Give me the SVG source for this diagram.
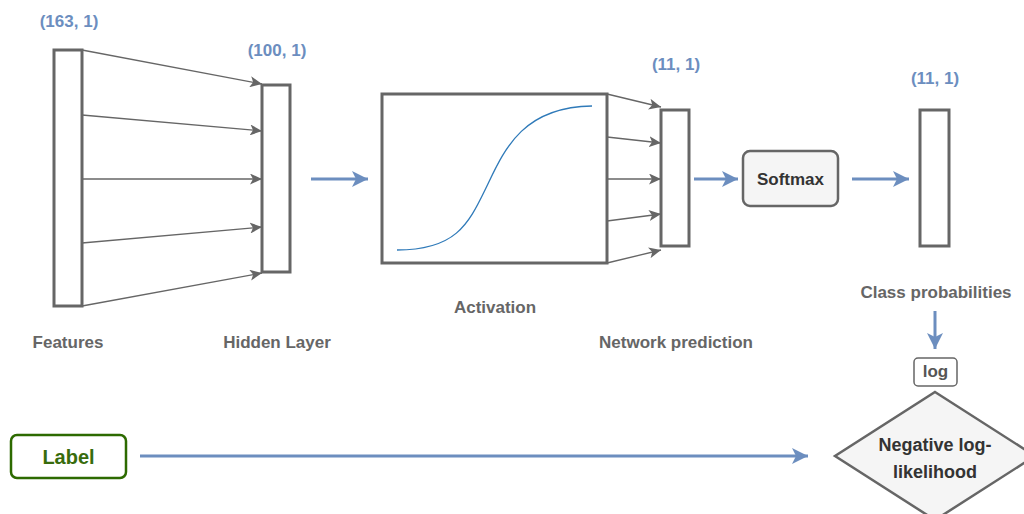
<svg xmlns="http://www.w3.org/2000/svg" width="1024" height="514" viewBox="0 0 1024 514">
  <style>
    .layer { fill: #ffffff; stroke: #666666; stroke-width: 3; }
    .shape { fill: #ffffff; stroke: #666666; stroke-width: 3; }
    .gray  { fill: #f5f5f5; stroke: #666666; stroke-width: 2.5; }
    .edge  { stroke: #666666; stroke-width: 1.3; fill: none; marker-end: url(#headGray); }
    .flow  { stroke: #6c8ebf; stroke-width: 3; fill: none; marker-end: url(#headBlue); }
    .dim   { font-family: "Liberation Sans", Arial, sans-serif; font-weight: bold; font-size: 17px; fill: #6c8ebf; text-anchor: middle; }
    .cap   { font-family: "Liberation Sans", Arial, sans-serif; font-weight: bold; font-size: 17px; fill: #666666; text-anchor: middle; }
    .inner { font-family: "Liberation Sans", Arial, sans-serif; font-weight: bold; fill: #333333; text-anchor: middle; }
  </style>
  <defs>
    <marker id="headGray" markerUnits="userSpaceOnUse" markerWidth="12" markerHeight="11" refX="12" refY="5.5" orient="auto">
      <path d="M0,0 L12,5.5 L0,11 L3,5.5 Z" fill="#666666"/>
    </marker>
    <marker id="headBlue" markerUnits="userSpaceOnUse" markerWidth="16" markerHeight="16" refX="16" refY="8" orient="auto">
      <path d="M0,0 L16,8 L0,16 L4,8 Z" fill="#6c8ebf"/>
    </marker>
  </defs>

  <rect width="1024" height="514" fill="#ffffff"/>

  <!-- connectors -->
  <g id="connectors">
    <line class="edge" x1="82" y1="50" x2="262" y2="84"/>
    <line class="edge" x1="82" y1="115" x2="262" y2="131"/>
    <line class="edge" x1="82" y1="179" x2="262" y2="179"/>
    <line class="edge" x1="82" y1="243" x2="262" y2="227"/>
    <line class="edge" x1="82" y1="306" x2="262" y2="273"/>

    <line class="edge" x1="607" y1="94" x2="661" y2="107"/>
    <line class="edge" x1="607" y1="137" x2="661" y2="143"/>
    <line class="edge" x1="607" y1="179" x2="661" y2="179"/>
    <line class="edge" x1="607" y1="221" x2="661" y2="214"/>
    <line class="edge" x1="607" y1="263" x2="661" y2="250"/>

    <line class="flow" x1="311" y1="179" x2="368" y2="179"/>
    <line class="flow" x1="694" y1="179" x2="738" y2="179"/>
    <line class="flow" x1="852" y1="179" x2="909" y2="179"/>
    <line class="flow" x1="935" y1="311" x2="935" y2="349"/>
    <line class="flow" x1="140" y1="456" x2="808" y2="456"/>
  </g>

  <g id="features">
    <rect class="layer" x="54" y="50" width="28" height="256"/>
    <text class="dim" x="69" y="27">(163, 1)</text>
    <text class="cap" x="68" y="348">Features</text>
  </g>

  <g id="hidden-layer">
    <rect class="layer" x="262" y="85" width="28" height="187"/>
    <text class="dim" x="277" y="56">(100, 1)</text>
    <text class="cap" x="277" y="348">Hidden Layer</text>
  </g>

  <g id="activation">
    <rect class="shape" x="382" y="94" width="225" height="169"/>
    <!-- sigmoid curve -->
    <path d="M397,250 C455,250 468,225 485,190 C503,153 520,107 592,106" fill="none" stroke="#2f7ab9" stroke-width="1.3"/>
    <text class="cap" x="495" y="313">Activation</text>
  </g>

  <g id="network-prediction">
    <rect class="layer" x="661" y="110" width="28" height="136"/>
    <text class="dim" x="676" y="70">(11, 1)</text>
    <text class="cap" x="676" y="348">Network prediction</text>
  </g>

  <g id="softmax">
    <rect class="gray" x="743" y="151" width="95" height="55" rx="7"/>
    <text class="inner" x="790.5" y="185" font-size="17">Softmax</text>
  </g>

  <g id="class-probabilities">
    <rect class="layer" x="920" y="110" width="29" height="136"/>
    <text class="dim" x="935" y="84">(11, 1)</text>
    <text class="cap" x="936" y="298">Class probabilities</text>
  </g>

  <g id="log">
    <rect x="914" y="358" width="43" height="28" rx="4" fill="#ffffff" stroke="#666666" stroke-width="1.5"/>
    <text class="inner" x="935.5" y="377" font-size="17" style="fill:#555555">log</text>
  </g>

  <g id="negative-log-likelihood">
    <polygon class="gray" points="935,392 1035,456 935,520 835,456"/>
    <text class="inner" x="935" y="451" font-size="18">Negative log-</text>
    <text class="inner" x="935" y="478" font-size="18">likelihood</text>
  </g>

  <g id="label">
    <rect x="11" y="435" width="115" height="43" rx="6" fill="#ffffff" stroke="#2d6a00" stroke-width="2.5"/>
    <text x="68.5" y="464" font-family="Liberation Sans, Arial, sans-serif" font-weight="bold" font-size="20" fill="#386c0c" text-anchor="middle">Label</text>
  </g>
</svg>
